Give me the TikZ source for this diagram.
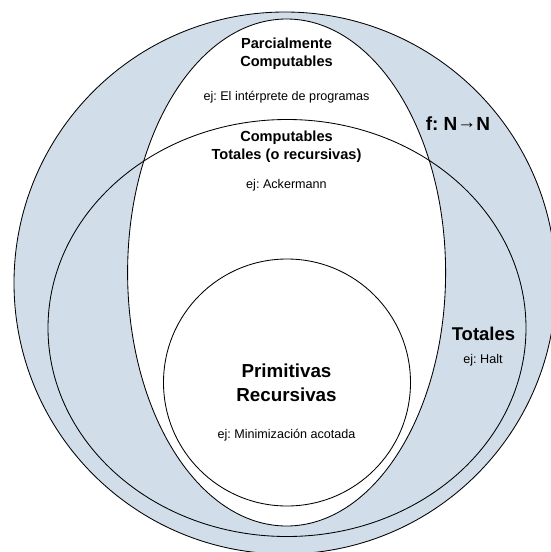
\documentclass[tikz,border=0pt]{standalone}
\usepackage{fontspec}
\setmainfont{Liberation Sans}
\definecolor{setblue}{RGB}{209,222,233}
\frenchspacing
\begin{document}
\begin{tikzpicture}[x=1pt,y=-1pt,line width=0.85pt,
  title/.style={font=\bfseries\fontsize{14.6}{18}\selectfont,align=center,inner sep=0},
  ex/.style={font=\fontsize{12.6}{15}\selectfont,inner sep=0},
  big/.style={font=\bfseries\fontsize{18.8}{23.6}\selectfont,align=center,inner sep=0}]
\useasboundingbox (0,0) rectangle (551,552);
% sets
\draw[fill=setblue] (285,283) circle [radius=271];
\fill[white] (286.6,272.5) ellipse [x radius=159, y radius=253.5];
\draw (287,328) ellipse [x radius=239, y radius=208.5];
\draw (286.6,272.5) ellipse [x radius=159, y radius=253.5];
\draw[fill=white] (287,382.5) circle [radius=123.5];
% labels
\node[title] (parc) at (286.5,54) {Parcialmente\\Computables};
\node[ex] (ej1) at (286.5,97.4) {ej: El intérprete de programas};
\node[title] (comp) at (286.5,146.5) {Computables\\Totales (o recursivas)};
\node[ex] (ej2) at (286.5,185.2) {ej: Ackermann};
\node[font=\bfseries\fontsize{19}{23}\selectfont,inner sep=0] (fnn) at (458,123.7) {f: N\raisebox{1.6pt}{→}N};
\node[font=\bfseries\fontsize{18.5}{22}\selectfont,inner sep=0] (tot) at (483.5,334) {Totales};
\node[ex] (ej3) at (483,360) {ej: Halt};
\node[big] (prim) at (286.5,382.6) {Primitivas\\Recursivas};
\node[ex] (ej4) at (286.5,435) {ej: Minimización acotada};
\end{tikzpicture}
\end{document}
